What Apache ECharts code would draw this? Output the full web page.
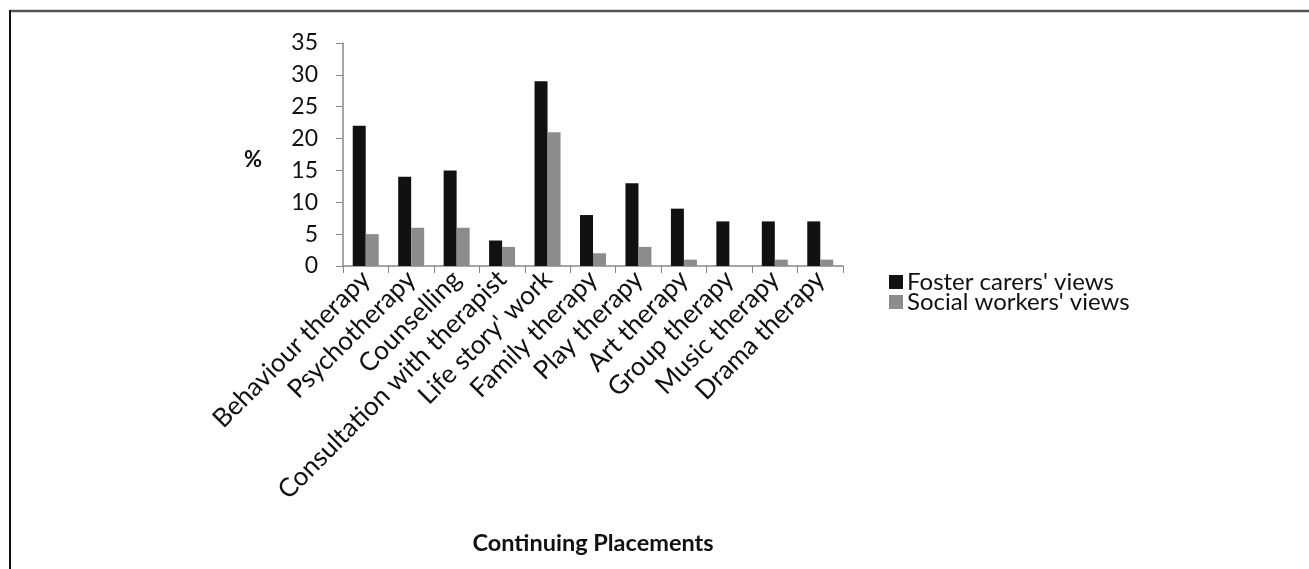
<!DOCTYPE html>
<html>
<head>
<meta charset="utf-8">
<script src="https://cdn.jsdelivr.net/npm/echarts@6/dist/echarts.min.js"></script>
<style>
html,body{margin:0;padding:0;background:#fff;}
#chart{width:1309px;height:569px;}
</style>
</head>
<body>
<div id="chart"></div>
<script>
// Therapies considered, continuing placements
const categories = ['Behaviour therapy','Psychotherapy','Counselling','Consultation with therapist',"Life story' work",'Family therapy','Play therapy','Art therapy','Group therapy','Music therapy','Drama therapy'];
const fosterCarers = [22, 14, 15, 4, 29, 8, 13, 9, 7, 7, 7];
const socialWorkers = [5, 6, 6, 3, 21, 2, 3, 1, 0, 1, 1];
const yTicks = [0, 35, 5];

const font = 'Lato, "Open Sans", sans-serif';
const chart = echarts.init(document.getElementById('chart'));
chart.setOption({
  backgroundColor: '#fff',
  animation: false,
  graphic: [
    { type: 'line', shape: { x1: 10, y1: 11, x2: 1309, y2: 11 }, style: { stroke: '#555', lineWidth: 2.5 } },
    { type: 'line', shape: { x1: 10, y1: 10, x2: 10, y2: 569 }, style: { stroke: '#111', lineWidth: 2 } },
    { type: 'text', left: 244, top: 149, style: { text: '%', font: 'bold 22px ' + font, fill: '#111' } }
  ],
  grid: { left: 343, top: 43, width: 500, height: 223 },
  legend: {
    orient: 'vertical', left: 884, top: 265, itemGap: -4,
    itemWidth: 14, itemHeight: 14, icon: 'rect',
    textStyle: { fontFamily: font, fontSize: 24, color: '#111', padding: [0, 0, 0, -1] },
    data: ["Foster carers' views", "Social workers' views"]
  },
  xAxis: {
    type: 'category', data: categories,
    name: 'Continuing Placements', nameLocation: 'middle', nameGap: 265,
    nameTextStyle: { fontFamily: font, fontSize: 23.5, fontWeight: 'bold', color: '#111' },
    axisLine: { lineStyle: { color: '#888', width: 1.5 } },
    axisTick: { show: true, length: 7, lineStyle: { color: '#888' } },
    axisLabel: { rotate: 45, interval: 0, margin: 9, fontFamily: font, fontSize: 26, color: '#111' }
  },
  yAxis: {
    type: 'value', min: yTicks[0], max: yTicks[1], interval: yTicks[2],
    axisLine: { show: true, lineStyle: { color: '#888', width: 1.5 } },
    axisTick: { show: true, length: 7, lineStyle: { color: '#888' } },
    splitLine: { show: false },
    axisLabel: { margin: 25, fontFamily: font, fontSize: 23, color: '#111' }
  },
  series: [
    { name: "Foster carers' views", type: 'bar', data: fosterCarers, barWidth: 13, barGap: '0%',
      itemStyle: { color: '#111' } },
    { name: "Social workers' views", type: 'bar', data: socialWorkers, barWidth: 13, barGap: '0%',
      itemStyle: { color: '#8c8c8c' } }
  ]
});
</script>
</body>
</html>
